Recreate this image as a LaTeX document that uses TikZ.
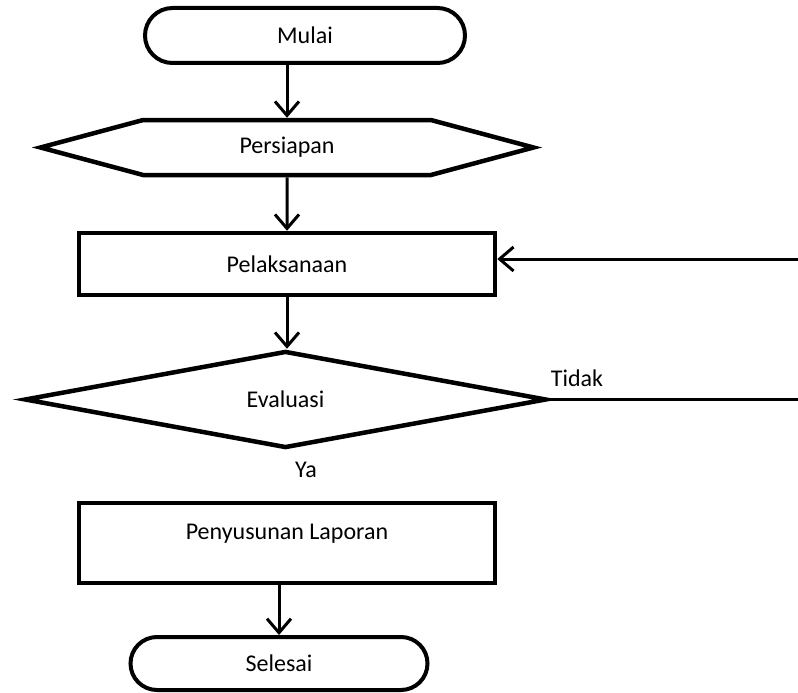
\documentclass[tikz,border=0pt]{standalone}
\usepackage{fontspec}
\setmainfont{Carlito}
\usetikzlibrary{shapes.geometric,shapes.misc,shapes.symbols,arrows.meta}
\tikzset{
    terminal/.style={rounded rectangle, draw, line width=4pt, inner sep=0pt},
    process/.style={rectangle, draw, line width=4.5pt, minimum width=416pt, inner sep=0pt},
    prep/.style={signal, signal to=west and east, signal pointer angle=30, draw, line width=4.5pt, inner sep=0pt},
    decision/.style={diamond, draw, line width=4.5pt, inner sep=0pt},
    flow/.style={line width=3pt, -{Straight Barb[length=14pt,width=24pt,line width=3pt]}},
}
\begin{document}
\begin{tikzpicture}[x=1pt, y=-1pt, font=\fontsize{24}{28}\selectfont]
    \useasboundingbox (0,0) rectangle (798,693);
    \node[terminal, minimum width=320pt, minimum height=55pt] (mulai) at (305,35.5) {Mulai};
    \node[prep, minimum width=493pt, minimum height=55pt] (persiapan) at (287,147.5) {Persiapan};
    \node[process, minimum height=62pt] (pelaksanaan) at (287,264) {Pelaksanaan};
    \node[decision, minimum width=522pt, minimum height=97pt] (evaluasi) at (285.5,399.5) {Evaluasi};
    \node[process, minimum height=80pt, text height=10pt, text depth=17pt] (laporan) at (287,543) {Penyusunan Laporan};
    \node[terminal, minimum width=297pt, minimum height=53pt] (selesai) at (279,663.5) {Selesai};
    \node[anchor=base west, inner sep=0pt] (tidak) at ([xshift=2pt,yshift=13pt]evaluasi.east) {Tidak};
    \node (ya) at (306,470) {Ya};
    \coordinate (kanan) at (798,259);
    \coordinate (ujung) at (798,399.5);

    \draw[flow] (mulai.south -| persiapan.north) -- (persiapan.north);
    \draw[flow] (persiapan) -- (pelaksanaan);
    \draw[flow] (pelaksanaan.south) -- (pelaksanaan.south |- evaluasi.north);
    \draw[flow] (kanan) -- (kanan -| pelaksanaan.east);
    \draw[line width=3pt] (evaluasi.east) -- (ujung);
    \draw[flow] (laporan.south -| selesai.north) -- (selesai.north);
\end{tikzpicture}
\end{document}
